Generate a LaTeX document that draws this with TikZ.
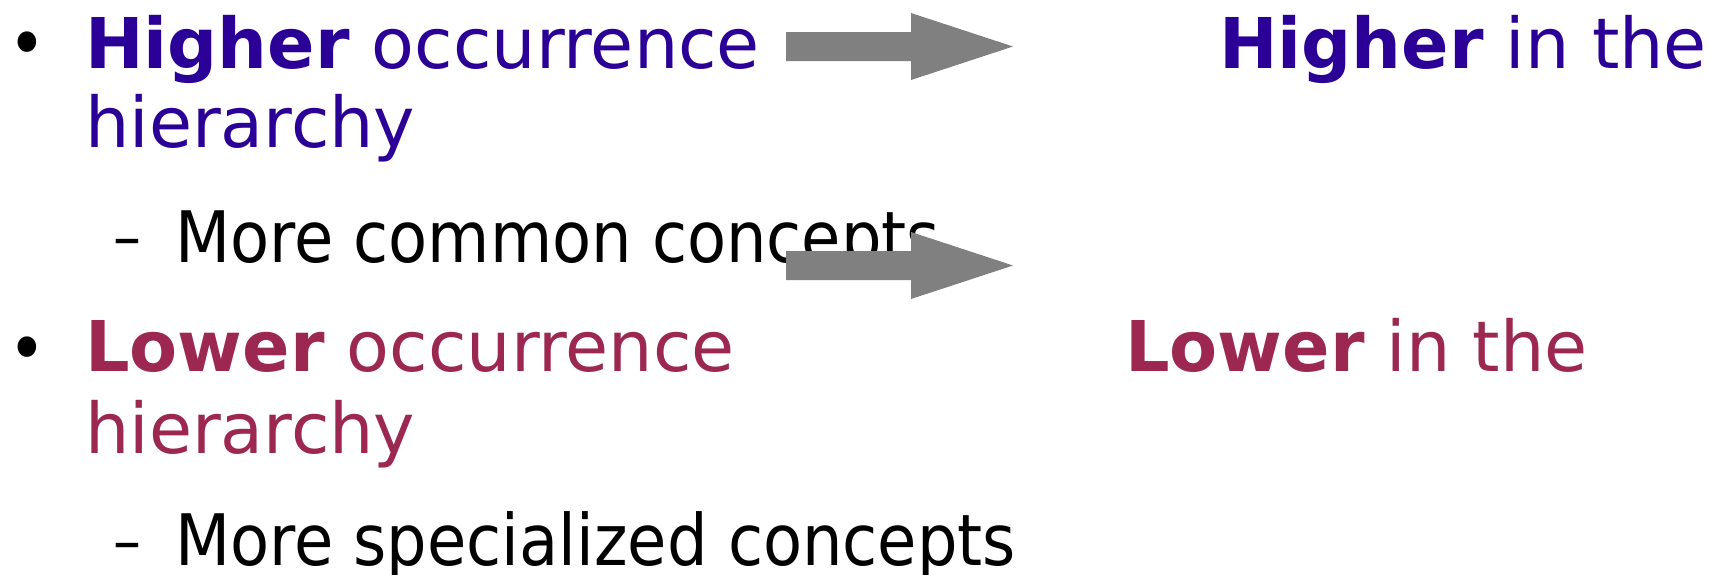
\documentclass[tikz,border=0pt]{standalone}
\usepackage{fontspec}
\setmainfont{DejaVu Sans Condensed}
\newfontfamily\widesans{DejaVu Sans}
\definecolor{highblue}{RGB}{43,0,151}
\definecolor{lowred}{RGB}{156,39,80}
\definecolor{arrowgray}{RGB}{128,128,128}
\tikzset{
  item/.style={anchor=base west,inner sep=0pt,font=\fontsize{71}{79}\selectfont},
  wideitem/.style={item,font=\fontsize{70}{78}\selectfont\widesans},
  dot/.style={inner sep=0pt,font=\fontsize{71}{79}\selectfont},
  subdash/.style={inner sep=0pt,font=\fontsize{62}{66}\selectfont},
  bigarrow/.style={fill=arrowgray}
}
\begin{document}
\begin{tikzpicture}[x=1pt,y=-1pt]
\useasboundingbox (0,0) rectangle (1711,574);
% higher occurrence
\node[dot] (b1) at (27,50) {•};
\node[wideitem,text=highblue] (high1) at (85,68) {\textbf{Higher} occurrence};
\node[wideitem,text=highblue] (high2) at (85,147) {hierarchy};
\node[subdash] (d1) at (127,249) {–};
\node[item] (common) at (175,262) {More common concepts};
\node[wideitem,text=highblue] (highres) at (1219,68) {\textbf{Higher} in the};

% lower occurrence
\node[dot] (b2) at (27,355) {•};
\node[wideitem,text=lowred] (low1) at (85,371) {\textbf{Lower} occurrence};
\node[wideitem,text=lowred] (low2) at (85,453) {hierarchy};
\node[subdash] (d2) at (127,553) {–};
\node[item] (special) at (175,565) {More specialized concepts};
\node[wideitem,text=lowred] (lowres) at (1125,371) {\textbf{Lower} in the};

% block arrows
\fill[bigarrow] (786,32) -- (911,32) -- (911,13) -- (1013,46.5) -- (911,80) -- (911,61) -- (786,61) -- cycle;
\fill[bigarrow] (786,251) -- (911,251) -- (911,232) -- (1013,265.5) -- (911,299) -- (911,280) -- (786,280) -- cycle;
\end{tikzpicture}
\end{document}
